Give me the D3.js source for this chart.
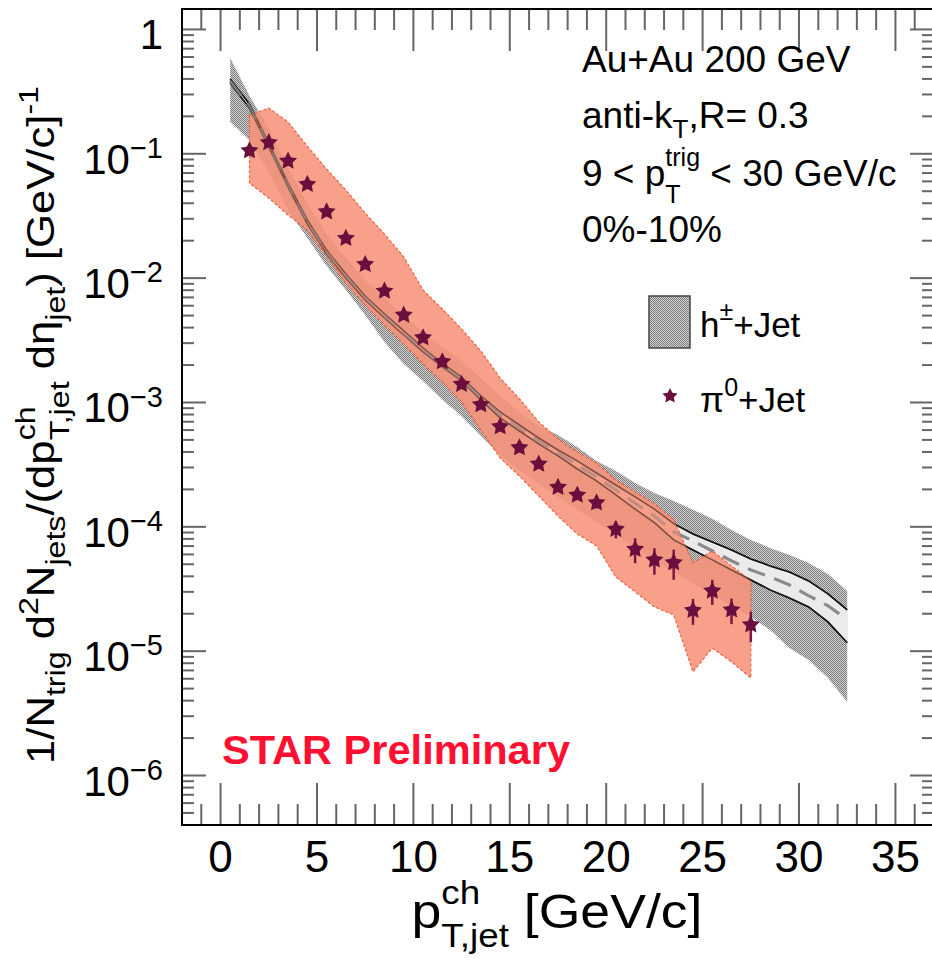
<!DOCTYPE html>
<html>
<head>
<meta charset="utf-8">
<script src="https://cdn.jsdelivr.net/npm/d3@7"></script>
<style>
  body { margin: 0; background: #fff; }
  svg { display: block; font-family: "Liberation Sans", Arial, Helvetica, sans-serif; }
  text { white-space: pre; }
</style>
</head>
<body>
<svg id="chart" width="932" height="960"></svg>
<script>
// h+-Jet reference (bin centres, GeV/c)
const hPt = [0.5, 1.5, 2.5, 3.5, 4.5, 5.5, 6.5, 7.5, 8.5, 9.5, 10.5, 11.5, 12.5, 13.5, 14.5, 15.5,
  16.5, 17.5, 18.5, 19.5, 20.5, 21.5, 22.5, 23.5, 24.5, 25.5, 26.5, 27.5, 28.5, 29.5, 30.5, 31.5, 32.5];
const hY = [0.384, 0.242, 0.117, 0.0560, 0.0283, 0.0162, 0.0104, 0.00692, 0.00496, 0.00362, 0.00264,
  0.00200, 0.00154, 0.00109, 0.000794, 0.000624, 0.000490, 0.000393, 0.000314, 0.000252, 0.000198,
  0.000155, 0.000122, 9.1e-5, 7.70e-5, 6.40e-5, 5.32e-5, 4.50e-5, 3.95e-5, 3.41e-5, 2.79e-5, 2.32e-5, 1.79e-5];
const hInHi = [0.399, 0.251, 0.122, 0.0581, 0.0294, 0.0168, 0.0108, 0.00718, 0.00515, 0.00376, 0.00274,
  0.00207, 0.00160, 0.00113, 0.000839, 0.000659, 0.000518, 0.000415, 0.000339, 0.000271, 0.000217,
  0.000174, 0.000139, 0.000106, 8.76e-5, 7.56e-5, 6.52e-5, 5.52e-5, 4.85e-5, 4.34e-5, 3.67e-5, 2.89e-5, 2.15e-5];
const hInLo = [0.370, 0.233, 0.113, 0.0540, 0.0272, 0.0156, 0.0100, 0.00667, 0.00478, 0.00349, 0.00255,
  0.00193, 0.00149, 0.00105, 0.000751, 0.000590, 0.000464, 0.000372, 0.000292, 0.000234, 0.000181,
  0.000139, 0.000108, 7.85e-5, 6.52e-5, 5.42e-5, 4.50e-5, 3.74e-5, 3.11e-5, 2.68e-5, 2.27e-5, 1.72e-5, 1.17e-5];
const hSysHi = [0.588, 0.291, 0.161, 0.0782, 0.0395, 0.0226, 0.0145, 0.00966, 0.00692, 0.00505, 0.00369,
  0.00280, 0.00216, 0.00157, 0.00113, 0.000839, 0.000647, 0.000548, 0.000439, 0.000339, 0.000281,
  0.000225, 0.000187, 0.000161, 0.000137, 0.000116, 9.43e-5, 7.85e-5, 6.77e-5, 5.94e-5, 5.12e-5, 4.18e-5, 3.05e-5];
const hSysLo = [0.180, 0.129, 0.0713, 0.0353, 0.0210, 0.0125, 0.00802, 0.00505, 0.00306, 0.00204, 0.00149,
  0.00105, 0.000779, 0.000538, 0.000379, 0.000287, 0.000221, 0.000174, 0.000137, 0.000109, 8.61e-5,
  6.77e-5, 5.42e-5, 4.34e-5, 3.48e-5, 2.84e-5, 2.32e-5, 1.89e-5, 1.48e-5, 1.06e-5, 8.51e-6, 6.1e-6, 3.91e-6];

// pi0+Jet
const pi0Pt = [1.5, 2.5, 3.5, 4.5, 5.5, 6.5, 7.5, 8.5, 9.5, 10.5, 11.5, 12.5, 13.5, 14.5, 15.5, 16.5,
  17.5, 18.5, 19.5, 20.5, 21.5, 22.5, 23.5, 24.5, 25.5, 26.5, 27.5];
const pi0Y = [0.106, 0.123, 0.0873, 0.0568, 0.0342, 0.0209, 0.0129, 0.00787, 0.00505, 0.00332, 0.00213,
  0.00140, 0.00096, 0.000639, 0.000433, 0.000320, 0.000208, 0.000180, 0.000156, 9.57e-5, 6.6e-5,
  5.42e-5, 5.15e-5, 2.13e-5, 3.05e-5, 2.15e-5, 1.63e-5];
const pi0Stat = [0.003, 0.003, 0.002, 0.0012, 0.0007, 0.0005, 0.0003, 0.0002, 0.00013, 0.0001, 7e-5,
  5e-5, 4e-5, 3e-5, 2.5e-5, 2e-5, 1.6e-5, 1.6e-5, 1.6e-5, 1.5e-5, 1.5e-5, 1.3e-5, 1.4e-5, 5e-6, 7e-6, 5e-6, 4.5e-6];
const pi0SysHi = [0.204, 0.233, 0.180, 0.115, 0.0753, 0.0511, 0.0333, 0.0226, 0.0148, 0.00802, 0.00565,
  0.00390, 0.00260, 0.00157, 0.00107, 0.000697, 0.000509, 0.000400, 0.000326, 0.000238, 0.000191,
  0.000153, 0.000114, 5.12e-5, 6.4e-5, 4.85e-5, 3.67e-5];
const pi0SysLo = [0.0581, 0.0441, 0.0322, 0.0243, 0.0150, 0.00913, 0.00608, 0.00420, 0.00296, 0.00204,
  0.00146, 0.00101, 0.000601, 0.000358, 0.000256, 0.000177, 0.000122, 8.76e-5, 7.02e-5, 3.95e-5,
  3.0e-5, 2.27e-5, 1.96e-5, 6.82e-6, 1.06e-5, 8.2e-6, 6.1e-6];

const xMajor = [0, 5, 10, 15, 20, 25, 30, 35];
const yMajorExp = [0, -1, -2, -3, -4, -5, -6];

const svg = d3.select("#chart");
const x = d3.scaleLinear().domain([-2, 37]).range([182, 934]);
const y = d3.scaleLog().domain([4e-7, 1.46]).range([825, 9]);

// dotted fill for the h+-Jet band
const defs = svg.append("defs");
const pg = defs.append("pattern").attr("id", "grayFill").attr("patternUnits", "userSpaceOnUse")
  .attr("width", 2).attr("height", 2);
[[0, 0, "#7c7c7c"], [1, 1, "#7c7c7c"], [1, 0, "#d2d2d2"], [0, 1, "#d2d2d2"]].forEach(c =>
  pg.append("rect").attr("x", c[0]).attr("y", c[1]).attr("width", 1).attr("height", 1).attr("fill", c[2]));

defs.append("clipPath").attr("id", "frameClip").append("rect")
  .attr("x", 182).attr("y", 9).attr("width", 752).attr("height", 816);

// chunky ROOT-like star marker
const fatStar = {
  draw(ctx, size) {
    const R = Math.sqrt(size) * 0.95, r = R * 0.5;
    for (let k = 0; k < 10; k++) {
      const rad = k % 2 ? r : R, a = -Math.PI / 2 + k * Math.PI / 5;
      const px = rad * Math.cos(a), py = rad * Math.sin(a);
      if (k === 0) ctx.moveTo(px, py); else ctx.lineTo(px, py);
    }
    ctx.closePath();
  }
};

const plot = svg.append("g").attr("clip-path", "url(#frameClip)");

const band = (lo, hi) => d3.area()
  .x(d => x(d))
  .y0((d, i) => y(lo[i]))
  .y1((d, i) => y(hi[i]));
const line = vals => d3.line().x(d => x(d)).y((d, i) => y(vals[i]));

function hLines(g, opacity) {
  [hInHi, hInLo].forEach(v => g.append("path").datum(hPt).attr("d", line(v)).attr("fill", "none")
    .attr("stroke", "#111").attr("stroke-width", 1.6).attr("stroke-opacity", opacity));
  g.append("path").datum(hPt).attr("d", line(hY)).attr("fill", "none").attr("stroke", "#8a8a8a")
    .attr("stroke-width", 3).attr("stroke-dasharray", "18,10").attr("stroke-opacity", opacity);
}

// h+-Jet band
plot.append("path").datum(hPt).attr("d", band(hSysLo, hSysHi)).attr("fill", "url(#grayFill)");
plot.append("path").datum(hPt).attr("d", band(hInLo, hInHi)).attr("fill", "#ebebeb");
hLines(plot, 1);

// pi0+Jet systematic band, h lines showing through it
plot.append("path").datum(pi0Pt).attr("d", band(pi0SysLo, pi0SysHi))
  .attr("fill", "#f8937a").attr("fill-opacity", 0.88)
  .attr("stroke", "#f0603e").attr("stroke-width", 1.2).attr("stroke-dasharray", "3,2");
hLines(plot.append("g"), 0.45);

// pi0 statistical errors and markers
const pi0 = pi0Pt.map((p, i) => ({ p, v: pi0Y[i], e: pi0Stat[i] }));
plot.append("g").selectAll("line").data(pi0).join("line")
  .attr("x1", d => x(d.p)).attr("x2", d => x(d.p))
  .attr("y1", d => y(d.v - d.e)).attr("y2", d => y(d.v + d.e))
  .attr("stroke", "#7a1745").attr("stroke-width", 2.5);
plot.append("g").selectAll("path").data(pi0).join("path")
  .attr("d", d3.symbol(fatStar, 100))
  .attr("transform", d => `translate(${x(d.p)},${y(d.v)})`)
  .attr("fill", "#6a0f3d");

// frame + ticks
const axes = svg.append("g").attr("stroke", "#666").attr("stroke-width", 2);
d3.range(-1, 37).forEach(v => {
  const len = v % 5 === 0 ? 42 : 21;
  axes.append("line").attr("x1", x(v)).attr("x2", x(v)).attr("y1", 825).attr("y2", 825 - len);
  axes.append("line").attr("x1", x(v)).attr("x2", x(v)).attr("y1", 9).attr("y2", 9 + len);
});
const yTicks = [];
for (let e = -7; e <= 0; e++) {
  for (let m = 1; m <= 9; m++) {
    const v = m * Math.pow(10, e);
    if (v >= 4e-7 && v <= 1.46) yTicks.push({ v, major: m === 1 });
  }
}
yTicks.forEach(t => {
  const len = t.major ? 24 : 12;
  axes.append("line").attr("x1", 182).attr("x2", 182 + len).attr("y1", y(t.v)).attr("y2", y(t.v));
  axes.append("line").attr("x1", 934).attr("x2", 934 - len).attr("y1", y(t.v)).attr("y2", y(t.v));
});
svg.append("rect").attr("x", 182).attr("y", 9).attr("width", 752).attr("height", 816)
  .attr("fill", "none").attr("stroke", "#000").attr("stroke-width", 2);

// rich text with sub/superscripts; opt.length stretches the run to a given length
function richText(parent, px, py, parts, opt) {
  const size = opt.size, small = opt.small;
  const g = parent.append("g");
  const inner = g.append("g");
  let cx = 0;
  parts.forEach(p => {
    if (typeof p === "string") {
      const t = inner.append("text").attr("x", cx).attr("y", 0).attr("font-size", size).text(p);
      cx += t.node().getComputedTextLength();
    } else {
      let w = 0;
      if (p.sup) {
        const t = inner.append("text").attr("x", cx).attr("y", -size * (p.supUp || 0.42))
          .attr("font-size", small).text(p.sup);
        w = Math.max(w, t.node().getComputedTextLength());
      }
      if (p.sub) {
        const t = inner.append("text").attr("x", cx).attr("y", size * (p.subDown || 0.3))
          .attr("font-size", small).text(p.sub);
        w = Math.max(w, t.node().getComputedTextLength());
      }
      cx += w;
    }
  });
  const k = opt.length ? opt.length / cx : 1;
  const total = cx * k;
  const shift = opt.anchor === "middle" ? -total / 2 : opt.anchor === "end" ? -total : 0;
  inner.attr("transform", `translate(${shift},0) scale(${k},1)`);
  g.attr("transform", `translate(${px},${py})` + (opt.rotate ? ` rotate(${opt.rotate})` : ""));
  g.selectAll("text").attr("fill", opt.fill || "#000").attr("font-weight", opt.weight || "normal");
  return g;
}

// tick labels
xMajor.forEach(v => {
  svg.append("text").attr("x", x(v)).attr("y", 872).attr("text-anchor", "middle")
    .attr("font-size", 44).text(v);
});
yMajorExp.forEach(e => {
  const parts = e === 0 ? ["1"] : ["10", { sup: "\u2212" + (-e), supUp: 0.38 }];
  richText(svg, 163, y(Math.pow(10, e)) + 20, parts, { size: 42, small: 29, anchor: "end" });
});

// axis titles
richText(svg, 557, 928, ["p", { sup: "ch", sub: "T,jet", supUp: 0.5, subDown: 0.4 }, " [GeV/c]"],
  { size: 48, small: 33, anchor: "middle", length: 291 });
richText(svg, 54, 425, ["1/N", { sub: "trig" }, " d", { sup: "2" }, "N", { sub: "jets" }, "/(dp",
  { sup: "ch", sub: "T,jet", supUp: 0.5, subDown: 0.4 }, " d\u03b7", { sub: "jet" }, ") [GeV/c]", { sup: "-1" }],
  { size: 38, small: 28, anchor: "middle", rotate: -90, length: 678 });

// annotations
const info = svg.append("g");
richText(info, 582, 72, ["Au+Au 200 GeV"], { size: 37, small: 26 });
richText(info, 582, 128, ["anti-k", { sub: "T", subDown: 0.28 }, ",R= 0.3"], { size: 37, small: 26 });
richText(info, 582, 186, ["9 < p", { sup: "trig", sub: "T", supUp: 0.55, subDown: 0.45 }, " < 30 GeV/c"], { size: 37, small: 25 });
richText(info, 582, 242, ["0%-10%"], { size: 37, small: 26 });

// legend
svg.append("rect").attr("x", 649).attr("y", 296).attr("width", 41).attr("height", 52)
  .attr("fill", "url(#grayFill)").attr("stroke", "#444").attr("stroke-width", 1.5);
richText(svg, 700, 337, ["h", { sup: "\u00b1", supUp: 0.5 }, "+Jet"], { size: 35, small: 25 });
svg.append("path").attr("d", d3.symbol(fatStar, 72)).attr("transform", "translate(670,396)")
  .attr("fill", "#6a0f3d");
richText(svg, 700, 412, ["\u03c0", { sup: "0", supUp: 0.45 }, "+Jet"], { size: 35, small: 25 });

svg.append("text").attr("x", 222).attr("y", 764).attr("font-size", 40).attr("font-weight", "bold")
  .attr("fill", "#ff1030").attr("textLength", 348).attr("lengthAdjust", "spacingAndGlyphs")
  .text("STAR Preliminary");
</script>
</body>
</html>
